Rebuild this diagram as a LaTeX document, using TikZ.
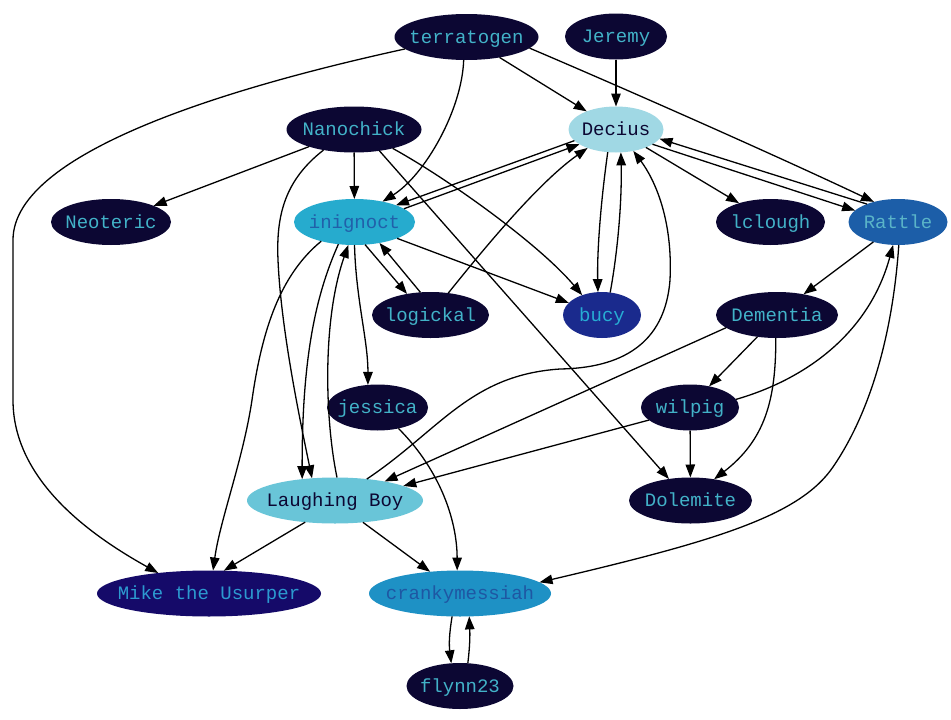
\documentclass[tikz,border=0pt]{standalone}
\usepackage{fontspec}
\setmonofont{Liberation Mono}
\usetikzlibrary{shapes.geometric,arrows.meta}
\definecolor{dk}{RGB}{12,7,51}
\definecolor{cy}{RGB}{66,178,200}
\definecolor{decfill}{RGB}{160,216,228}
\definecolor{inifill}{RGB}{38,171,206}
\definecolor{initext}{RGB}{33,96,170}
\definecolor{ratfill}{RGB}{28,94,168}
\definecolor{rattext}{RGB}{90,180,200}
\definecolor{bucyfill}{RGB}{26,42,141}
\definecolor{bucytext}{RGB}{39,173,212}
\definecolor{lbfill}{RGB}{105,197,216}
\definecolor{mikefill}{RGB}{21,10,105}
\definecolor{miketext}{RGB}{44,154,208}
\definecolor{crfill}{RGB}{30,145,197}
\definecolor{crtext}{RGB}{30,87,163}
\begin{document}
\begin{tikzpicture}[x=1pt,y=-1pt,
  nd/.style={ellipse, minimum height=46pt, inner xsep=-20pt, inner ysep=0pt, outer sep=0pt,
    text height=15pt, text depth=3pt, font=\ttfamily\fontsize{19}{19}\selectfont},
  dnode/.style={nd, fill=dk, text=cy},
  edge/.style={-{Triangle[length=13pt,width=9.5pt]}, line width=1.3pt, black}]
\useasboundingbox[fill=white] (0,0) rectangle (951,720);

\node[dnode, minimum width=144pt] (terratogen) at (466.5,37) {terratogen};
\node[dnode, minimum width=102pt] (Jeremy) at (616,36.5) {Jeremy};
\node[nd, fill=decfill, text=dk, minimum width=95pt] (Decius) at (616,129.5) {Decius};
\node[dnode, minimum width=135pt] (Nanochick) at (354,129.5) {Nanochick};
\node[dnode, minimum width=120pt] (Neoteric) at (111,222) {Neoteric};
\node[nd, fill=inifill, text=initext, minimum width=121pt] (inignoct) at (354.5,222) {inignoct};
\node[dnode, minimum width=109pt] (lclough) at (770.5,222) {lclough};
\node[nd, fill=ratfill, text=rattext, minimum width=99pt] (Rattle) at (898,222) {Rattle};
\node[dnode, minimum width=117pt] (logickal) at (430.5,315) {logickal};
\node[nd, fill=bucyfill, text=bucytext, minimum width=78pt] (bucy) at (602,315) {bucy};
\node[dnode, minimum width=122pt] (Dementia) at (777,315) {Dementia};
\node[dnode, minimum width=101pt] (jessica) at (377.5,407.5) {jessica};
\node[dnode, minimum width=98pt] (wilpig) at (690,407.5) {wilpig};
\node[nd, fill=lbfill, text=dk, minimum width=176pt] (LB) at (335,500.5) {Laughing Boy};
\node[dnode, minimum width=123pt] (Dolemite) at (690.5,500.5) {Dolemite};
\node[nd, fill=mikefill, text=miketext, minimum width=224pt] (Mike) at (209,593.5) {Mike the Usurper};
\node[nd, fill=crfill, text=crtext, minimum width=182pt] (cranky) at (460,593.5) {crankymessiah};
\node[dnode, minimum width=107pt] (flynn23) at (460,686) {flynn23};

% terratogen
\draw[edge] (terratogen) -- (Decius);
\draw[edge] (terratogen.-10) .. controls (600,78) and (760,148) .. (Rattle.140);
\draw[edge] (terratogen.263) .. controls (462,110) and (425,175) .. (inignoct.36);
\draw[edge] (terratogen.191) .. controls (240,85) and (13,150) .. (13,240) -- (13,400)
   .. controls (13,480) and (90,535) .. (Mike.158);
% Jeremy
\draw[edge] (Jeremy) -- (Decius);
% Nanochick
\draw[edge] (Nanochick) -- (Neoteric);
\draw[edge] (Nanochick) -- (inignoct);
\draw[edge] (Nanochick.214) .. controls (285,180) and (276,215) .. (278,260)
   .. controls (281,330) and (300,420) .. (LB.136);
\draw[edge] (Nanochick.-26) .. controls (450,180) and (540,245) .. (bucy.135);
\draw[edge] (Nanochick.-40) -- (Dolemite.135);
% Decius
\draw[edge] (Decius.195) -- (inignoct.22);
\draw[edge] (inignoct.15) -- (Decius.202);
\draw[edge] (Decius.250) .. controls (601,200) and (597,250) .. (bucy.100);
\draw[edge] (bucy.70) .. controls (618,250) and (622,200) .. (Decius.282);
\draw[edge] (Decius) -- (lclough);
\draw[edge] (Decius.-22) -- (Rattle.165);
\draw[edge] (Rattle.150) -- (Decius.-12);
% logickal
\draw[edge] (logickal.51) .. controls (475,260) and (535,185) .. (Decius.213);
\draw[edge] (logickal.114) -- (inignoct.-40);
% Laughing Boy
\draw[edge] (LB.34) .. controls (440,430) and (470,375) .. (560,369)
   .. controls (620,368) and (665,345) .. (670,280)
   .. controls (673,220) and (655,180) .. (Decius.309);
\draw[edge] (LB.85) .. controls (325,420) and (322,320) .. (inignoct.255);
\draw[edge] (LB.216) -- (Mike.57);
\draw[edge] (LB.-38) -- (cranky.144);
% inignoct
\draw[edge] (inignoct.-65) -- (logickal.138);
\draw[edge] (inignoct.-21) -- (bucy.160);
\draw[edge] (inignoct.270) .. controls (356,300) and (368,340) .. (jessica.113);
\draw[edge] (inignoct.210) .. controls (280,275) and (262,330) .. (252,400)
   .. controls (243,460) and (220,520) .. (Mike.80);
\draw[edge] (inignoct.234) .. controls (318,290) and (302,350) .. (LB.147);
% jessica
\draw[edge] (jessica.-45) .. controls (440,470) and (457,520) .. (cranky.97);
% Rattle
\draw[edge] (Rattle.219) -- (Dementia.38);
\draw[edge] (Rattle.272) .. controls (893,330) and (872,410) .. (833,467)
   .. controls (800,515) and (720,540) .. (cranky.8);
% wilpig
\draw[edge] (wilpig.10) .. controls (810,378) and (870,330) .. (Rattle.258);
\draw[edge] (wilpig) -- (Dolemite);
\draw[edge] (wilpig.197) -- (LB.12);
% Dementia
\draw[edge] (Dementia.228) -- (wilpig.48);
\draw[edge] (Dementia.267) .. controls (776,400) and (765,440) .. (Dolemite.42);
\draw[edge] (Dementia.194) -- (LB.21);
% crankymessiah / flynn23
\draw[edge] (cranky.251) .. controls (449,635) and (449,645) .. (flynn23.111);
\draw[edge] (flynn23.71) .. controls (470,645) and (470,635) .. (cranky.292);
\end{tikzpicture}
\end{document}
